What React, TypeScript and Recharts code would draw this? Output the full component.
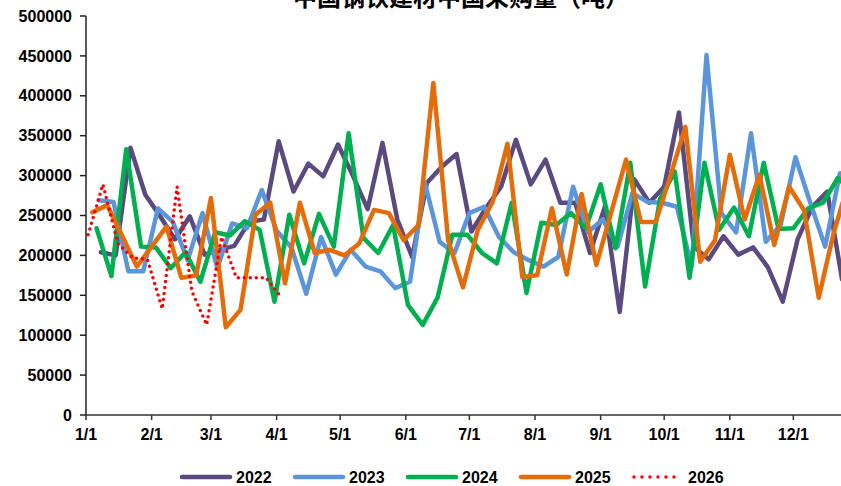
import React from "react";
import { LineChart, Line, XAxis, YAxis } from "recharts";

// x axis: day of year (Jan 1 = 0), one label per month start
const MONTH_TICKS = [0, 31, 59, 90, 120, 151, 181, 212, 243, 273, 304, 334];
const MONTH_LABELS = ["1/1", "2/1", "3/1", "4/1", "5/1", "6/1", "7/1", "8/1", "9/1", "10/1", "11/1", "12/1"];
const Y_TICKS = [0, 50000, 100000, 150000, 200000, 250000, 300000, 350000, 400000, 450000, 500000];

// weekly readings, first reading day of each year
const START_DAY = { y2022: 7, y2023: 6, y2024: 5, y2025: 3, y2026: 1 };

const V2022 = [
  204000, 200000, 335000, 276000, 249000, 220000, 249000, 201000, 207000, 212000, 242000, 245000, 343000,
  280000, 315000, 299000, 339000, 300000, 258000, 341000, 245000, 198000, 291000, 311000, 327000, 230000,
  260000, 286000, 345000, 289000, 320000, 266000, 266000, 203000, 261000, 129000, 295000, 266000, 286000,
  379000, 211000, 195000, 224000, 201000, 210000, 185000, 142000, 220000, 261000, 280000, 170000, 190000,
];
const V2023 = [
  269000, 267000, 180000, 180000, 259000, 242000, 194000, 253000, 184000, 240000, 234000, 282000, 231000,
  210000, 152000, 223000, 176000, 207000, 186000, 180000, 159000, 167000, 291000, 217000, 203000, 253000,
  261000, 223000, 204000, 194000, 186000, 198000, 286000, 229000, 245000, 211000, 278000, 267000, 266000,
  261000, 186000, 451000, 253000, 229000, 353000, 217000, 238000, 323000, 266000, 211000, 303000, 290000,
];
const V2024 = [
  234000, 174000, 333000, 211000, 210000, 184000, 204000, 167000, 229000, 225000, 243000, 232000, 142000,
  251000, 190000, 252000, 211000, 353000, 222000, 203000, 238000, 138000, 113000, 147000, 226000, 226000,
  203000, 190000, 266000, 153000, 241000, 238000, 253000, 234000, 289000, 209000, 316000, 161000, 270000,
  305000, 172000, 316000, 232000, 260000, 224000, 316000, 233000, 234000, 259000, 266000, 297000, 280000,
];
const V2025 = [
  254000, 263000, 225000, 186000, 211000, 236000, 172000, 175000, 272000, 110000, 132000, 251000, 266000,
  165000, 266000, 203000, 207000, 200000, 215000, 257000, 253000, 219000, 238000, 416000, 219000, 160000,
  232000, 267000, 340000, 173000, 175000, 259000, 176000, 277000, 188000, 254000, 320000, 242000, 242000,
  300000, 361000, 192000, 219000, 326000, 245000, 301000, 213000, 286000, 257000, 147000, 228000, 290000,
];
const V2026 = [226000, 289000, 215000, 197000, 195000, 133000, 286000, 155000, 113000, 223000, 172000, 172000, 172000, 148000];

const SERIES = [
  { name: "2022", color: "#5B4A80", values: V2022, start: START_DAY.y2022, dotted: false },
  { name: "2023", color: "#5B95DA", values: V2023, start: START_DAY.y2023, dotted: false },
  { name: "2024", color: "#00B050", values: V2024, start: START_DAY.y2024, dotted: false },
  { name: "2025", color: "#E46C0A", values: V2025, start: START_DAY.y2025, dotted: false },
  { name: "2026", color: "#FF0000", values: V2026, start: START_DAY.y2026, dotted: true },
];

const TITLE = "中国钢铁建材中国采购量（吨）";
const FONT = '"Liberation Sans", Arial, sans-serif';

const toPoints = (values: number[], start: number) => values.map((v, i) => ({ day: start + 7 * i, value: v }));

function Legend() {
  const itemW = 113;
  const x0 = 180;
  return (
    <svg width={841} height={30} style={{ position: "absolute", left: 0, top: 462 }}>
      {SERIES.map((s, i) => {
        const x = x0 + i * itemW;
        return (
          <g key={s.name}>
            <line
              x1={x + 2}
              x2={x + 50}
              y1={15}
              y2={15}
              stroke={s.color}
              strokeWidth={s.dotted ? 3.5 : 4.5}
              strokeLinecap="round"
              strokeDasharray={s.dotted ? "0 8" : undefined}
            />
            <text x={x + 56} y={21} fontFamily={FONT} fontWeight="bold" fontSize={16} fill="#000">
              {s.name}
            </text>
          </g>
        );
      })}
    </svg>
  );
}

export default function App() {
  return (
    <div style={{ position: "absolute", left: 0, top: 0, width: 841, height: 486, overflow: "hidden", background: "#fff" }}>
      <svg width={841} height={30} style={{ position: "absolute", left: 0, top: 0 }}>
        <text x={461} y={6} textAnchor="middle" fontFamily='"Noto Sans CJK SC", sans-serif' fontWeight="bold" fontSize={24} fill="#000">
          {TITLE}
        </text>
      </svg>
      <LineChart width={880} height={486} margin={{ top: 16, right: 21, bottom: 41, left: 6 }}>
        <XAxis
          type="number"
          dataKey="day"
          domain={[0, 365]}
          ticks={MONTH_TICKS}
          tickFormatter={(d: number) => MONTH_LABELS[MONTH_TICKS.indexOf(d)]}
          height={30}
          tickSize={5}
          tickMargin={9}
          axisLine={{ stroke: "#333", strokeWidth: 1.5 }}
          tickLine={{ stroke: "#333", strokeWidth: 1.5 }}
          tick={{ fill: "#000", fontSize: 16, fontWeight: "bold", fontFamily: FONT }}
          allowDataOverflow
        />
        <YAxis
          type="number"
          domain={[0, 500000]}
          ticks={Y_TICKS}
          width={80}
          tickSize={6}
          tickMargin={8}
          axisLine={{ stroke: "#222", strokeWidth: 1.5 }}
          tickLine={{ stroke: "#222", strokeWidth: 1.5 }}
          tick={{ fill: "#000", fontSize: 16, fontWeight: "bold", fontFamily: FONT }}
          interval={0}
        />
        {SERIES.map((s) => (
          <Line
            key={s.name}
            data={toPoints(s.values, s.start)}
            dataKey="value"
            name={s.name}
            type="linear"
            stroke={s.color}
            strokeWidth={s.dotted ? 3.5 : 4.5}
            strokeDasharray={s.dotted ? "0 6" : undefined}
            strokeLinecap="round"
            strokeLinejoin="round"
            dot={false}
            activeDot={false}
            isAnimationActive={false}
          />
        ))}
      </LineChart>
      <Legend />
    </div>
  );
}
